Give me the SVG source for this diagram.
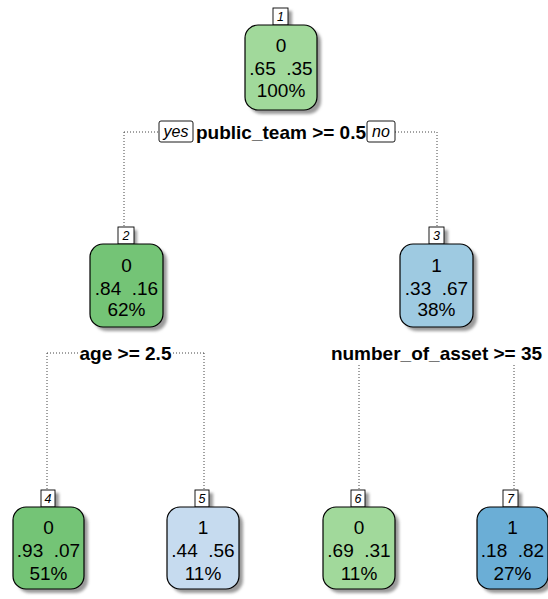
<svg xmlns="http://www.w3.org/2000/svg" width="548" height="599" viewBox="0 0 548 599">
<defs>
<filter id="sh" x="-20%" y="-20%" width="150%" height="150%">
<feGaussianBlur stdDeviation="1.8"/>
</filter>
<style>
.box{stroke:#000;stroke-width:1.2}
.shadow{fill:#9a9a9a;filter:url(#sh)}
.t{font-family:"Liberation Sans",Arial,sans-serif;font-size:19px;fill:#000;text-anchor:middle;white-space:pre}
.lb{fill:#fff;stroke:#000;stroke-width:0.9}
.lt{font-family:"Liberation Sans",Arial,sans-serif;font-size:12.5px;font-style:italic;fill:#000;text-anchor:middle}
.sp{font-family:"Liberation Sans",Arial,sans-serif;font-size:19px;font-weight:bold;fill:#000;text-anchor:middle}
.yn{font-family:"Liberation Sans",Arial,sans-serif;font-size:16px;font-style:italic;fill:#000;text-anchor:middle}
.c{fill:none;stroke:#444;stroke-width:1;stroke-dasharray:1 2}
</style>
</defs>
<rect width="548" height="599" fill="#fff"/>
<g id="connectors">
<path class="c" d="M124,132 H159 M395,132 H437 M124,132 V227 M437,132 V227"/>
<path class="c" d="M47,353 H78 M173,353 H204 M47,353 V490 M204,353 V490"/>
<path class="c" d="M359,365 V490 M514,365 V490"/>
</g>
<g id="node1">
<rect class="shadow" x="277" y="11" width="15" height="17"/>
<rect class="lb" x="273" y="8" width="15" height="17"/>
<text class="lt" x="280.5" y="21">1</text>
<rect class="shadow" x="249" y="29" width="72" height="85" rx="13"/>
<rect class="box" x="245" y="25" width="72" height="85" rx="13" fill="#a1d99b"/>
<text class="t" x="281" y="52">0</text>
<text class="t" x="281" y="75" xml:space="preserve">.65  .35</text>
<text class="t" x="281" y="97">100%</text>
</g>
<g id="split1">
<rect class="lb" x="159" y="121" width="34" height="21" rx="2"/>
<text class="yn" x="176" y="137">yes</text>
<text class="sp" x="281" y="139">public_team &gt;= 0.5</text>
<rect class="lb" x="367" y="121" width="28" height="21" rx="2"/>
<text class="yn" x="381" y="137">no</text>
</g>
<g id="node2">
<rect class="shadow" x="122" y="230" width="15" height="17"/>
<rect class="lb" x="118" y="227" width="16" height="17"/>
<text class="lt" x="126" y="240">2</text>
<rect class="shadow" x="94" y="248" width="73" height="83" rx="13"/>
<rect class="box" x="90" y="244" width="73" height="83" rx="13" fill="#74c476"/>
<text class="t" x="126.5" y="272">0</text>
<text class="t" x="126.5" y="295" xml:space="preserve">.84  .16</text>
<text class="t" x="126.5" y="316">62%</text>
</g>
<g id="split2">
<text class="sp" x="125.5" y="360">age &gt;= 2.5</text>
</g>
<g id="node3">
<rect class="shadow" x="433" y="230" width="15" height="17"/>
<rect class="lb" x="429" y="227" width="15" height="17"/>
<text class="lt" x="436.5" y="240">3</text>
<rect class="shadow" x="404" y="248" width="73" height="83" rx="13"/>
<rect class="box" x="400" y="244" width="73" height="83" rx="13" fill="#9ecae1"/>
<text class="t" x="436.5" y="272">1</text>
<text class="t" x="436.5" y="295" xml:space="preserve">.33  .67</text>
<text class="t" x="436.5" y="316">38%</text>
</g>
<g id="split3">
<text class="sp" x="436.5" y="360">number_of_asset &gt;= 35</text>
</g>
<g id="node4">
<rect class="shadow" x="45" y="493" width="14" height="17"/>
<rect class="lb" x="41" y="490" width="14" height="17"/>
<text class="lt" x="48" y="503">4</text>
<rect class="shadow" x="17" y="511" width="71" height="82" rx="13"/>
<rect class="box" x="13" y="507" width="71" height="82" rx="13" fill="#74c476"/>
<text class="t" x="48.5" y="534">0</text>
<text class="t" x="48.5" y="557" xml:space="preserve">.93  .07</text>
<text class="t" x="48.5" y="580">51%</text>
</g>
<g id="node5">
<rect class="shadow" x="199" y="493" width="14" height="17"/>
<rect class="lb" x="195" y="490" width="14" height="17"/>
<text class="lt" x="202" y="503">5</text>
<rect class="shadow" x="171" y="511" width="72" height="82" rx="13"/>
<rect class="box" x="167" y="507" width="72" height="82" rx="13" fill="#c6dbef"/>
<text class="t" x="203" y="534">1</text>
<text class="t" x="203" y="557" xml:space="preserve">.44  .56</text>
<text class="t" x="203" y="580">11%</text>
</g>
<g id="node6">
<rect class="shadow" x="355" y="493" width="14" height="17"/>
<rect class="lb" x="351" y="490" width="14" height="17"/>
<text class="lt" x="358" y="503">6</text>
<rect class="shadow" x="327" y="511" width="72" height="82" rx="13"/>
<rect class="box" x="323" y="507" width="72" height="82" rx="13" fill="#a1d99b"/>
<text class="t" x="359" y="534">0</text>
<text class="t" x="359" y="557" xml:space="preserve">.69  .31</text>
<text class="t" x="359" y="580">11%</text>
</g>
<g id="node7">
<rect class="shadow" x="507" y="493" width="15" height="17"/>
<rect class="lb" x="503" y="490" width="15" height="17"/>
<text class="lt" x="510.5" y="503">7</text>
<rect class="shadow" x="481" y="511" width="71" height="82" rx="13"/>
<rect class="box" x="477" y="507" width="71" height="82" rx="13" fill="#6baed6"/>
<text class="t" x="512.5" y="534">1</text>
<text class="t" x="512.5" y="557" xml:space="preserve">.18  .82</text>
<text class="t" x="512.5" y="580">27%</text>
</g>
</svg>
